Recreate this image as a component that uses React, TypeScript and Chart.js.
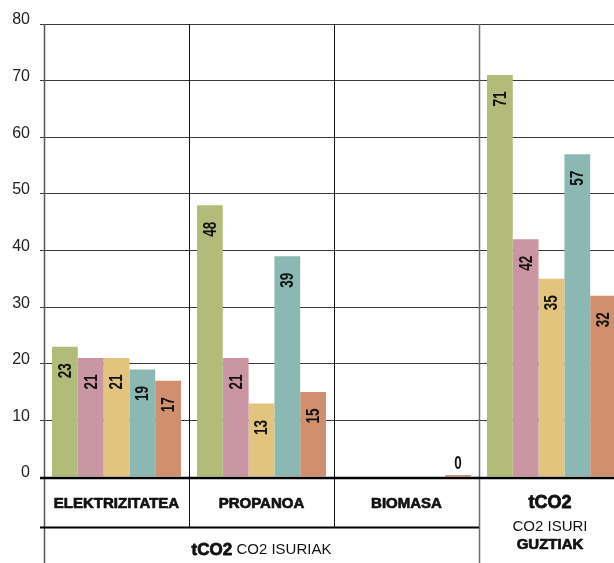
import React, { useEffect, useRef } from "react";
import { Chart, registerables } from "chart.js";

Chart.register(...registerables);

const categories = ["ELEKTRIZITATEA", "PROPANOA", "BIOMASA", "tCO2"];
const series1 = [23, 48, null, 71];
const series2 = [21, 21, null, 42];
const series3 = [21, 13, null, 35];
const series4 = [19, 39, null, 57];
const series5 = [17, 15, 0, 32];
const seriesNames = ["1", "2", "3", "4", "5"];
const seriesColors = ["#b2bb78", "#cb96a4", "#e2c47f", "#8bb8b3", "#d0906f"];
const yTicks = [0, 10, 20, 30, 40, 50, 60, 70, 80];
const groupLabel = ["tCO2", " CO2 ISURIAK"];
const totalLabel = ["tCO2", "CO2 ISURI", "GUZTIAK"];

const CANVAS_W = 640;
const CANVAS_H = 563;
const FONT = "'Liberation Sans', Arial, sans-serif";

function heavyText(ctx: any, text: string, x: number, y: number, sw: number) {
  ctx.fillText(text, x, y);
  if (sw > 0) {
    ctx.lineWidth = sw;
    ctx.strokeStyle = ctx.fillStyle;
    ctx.lineJoin = "round";
    ctx.strokeText(text, x, y);
  }
}

const overlayPlugin = {
  id: "overlay",
  beforeDatasetsDraw(chart: any) {
    const ctx = chart.ctx;
    const area = chart.chartArea;
    const w = (area.right - area.left) / categories.length;
    ctx.save();
    for (let i = 1; i < categories.length; i++) {
      const bx = Math.round(area.left + i * w) + 0.5;
      ctx.beginPath();
      if (i === categories.length - 1) {
        ctx.strokeStyle = "#6e6e6e";
        ctx.lineWidth = 1.5;
        ctx.moveTo(bx, area.top);
        ctx.lineTo(bx, CANVAS_H);
      } else {
        ctx.strokeStyle = "#111";
        ctx.lineWidth = 1;
        ctx.moveTo(bx, area.top);
        ctx.lineTo(bx, area.bottom + 50);
      }
      ctx.stroke();
    }
    ctx.restore();
  },
  afterDatasetsDraw(chart: any) {
    const ctx = chart.ctx;
    const area = chart.chartArea;
    const w = (area.right - area.left) / categories.length;
    ctx.save();
    ctx.strokeStyle = "#555";
    ctx.lineWidth = 1.5;
    ctx.beginPath();
    ctx.moveTo(area.left + 0.5, area.top);
    ctx.lineTo(area.left + 0.5, CANVAS_H);
    ctx.stroke();
    ctx.strokeStyle = "#000";
    ctx.lineWidth = 2.5;
    ctx.beginPath();
    ctx.moveTo(area.left - 4, area.bottom + 1);
    ctx.lineTo(CANVAS_W, area.bottom + 1);
    ctx.stroke();
    const sepY = area.bottom + 50.5;
    ctx.beginPath();
    ctx.lineWidth = 2.2;
    ctx.moveTo(area.left - 4, sepY);
    ctx.lineTo(area.left + 3 * w, sepY);
    ctx.stroke();

    ctx.fillStyle = "#111";
    ctx.textAlign = "center";
    ctx.textBaseline = "middle";
    const labelY = area.bottom + 27;
    for (let i = 0; i < 3; i++) {
      const cx = area.left + (i + 0.5) * w;
      ctx.font = `bold 15px ${FONT}`;
      heavyText(ctx, categories[i], cx, labelY, 0.7);
    }
    const c4 = area.left + 3.5 * w - 1.5;
    ctx.font = `bold 18px ${FONT}`;
    heavyText(ctx, totalLabel[0], c4, labelY - 1, 0.8);
    ctx.font = `15px ${FONT}`;
    ctx.fillText(totalLabel[1], c4, labelY + 23);
    ctx.font = `bold 15px ${FONT}`;
    heavyText(ctx, totalLabel[2], c4, labelY + 41, 0.7);

    const gx = area.left + 1.5 * w;
    const gy = area.bottom + 73;
    ctx.font = `bold 17px ${FONT}`;
    const w1 = ctx.measureText(groupLabel[0]).width;
    ctx.font = `15px ${FONT}`;
    const w2 = ctx.measureText(groupLabel[1]).width;
    const startX = gx - (w1 + w2) / 2;
    ctx.textAlign = "left";
    ctx.font = `bold 17px ${FONT}`;
    heavyText(ctx, groupLabel[0], startX, gy, 0.8);
    ctx.font = `15px ${FONT}`;
    ctx.fillText(groupLabel[1], startX + w1, gy);

    ctx.fillStyle = "#111";
    chart.data.datasets.forEach((ds: any, di: number) => {
      const meta = chart.getDatasetMeta(di);
      meta.data.forEach((el: any, i: number) => {
        const v = ds.data[i];
        if (v === null || v === undefined) return;
        ctx.save();
        ctx.font = `bold 18px ${FONT}`;
        ctx.textAlign = "center";
        ctx.textBaseline = "middle";
        if (v === 0) {
          ctx.translate(el.x, area.bottom - 13);
          ctx.scale(0.75, 1);
          ctx.fillText(String(v), 0, 0);
        } else {
          ctx.translate(el.x, el.y + 24);
          ctx.rotate(-Math.PI / 2);
          ctx.scale(0.75, 1);
          ctx.fillText(String(v), 0, 1);
        }
        ctx.restore();
      });
    });
    ctx.restore();
  },
};

export default function App() {
  const ref = useRef<HTMLCanvasElement | null>(null);
  useEffect(() => {
    document.body.style.margin = "0";
    document.body.style.overflow = "hidden";
    const canvas = ref.current;
    if (!canvas) return;
    const allSeries = [series1, series2, series3, series4, series5];
    const chart = new Chart(canvas, {
      type: "bar",
      data: {
        labels: categories,
        datasets: allSeries.map((d, i) => ({
          label: seriesNames[i],
          data: d,
          backgroundColor: seriesColors[i],
          borderWidth: 0,
          minBarLength: i === 4 ? 2 : 0,
        })),
      },
      options: {
        responsive: false,
        animation: false,
        devicePixelRatio: 1,
        layout: { padding: { top: 24, right: CANVAS_W - 624, bottom: 86, left: 0 } },
        plugins: { legend: { display: false }, tooltip: { enabled: false } },
        datasets: { bar: { categoryPercentage: 0.89, barPercentage: 1 } },
        scales: {
          x: { display: false, offset: true },
          y: {
            min: 0,
            max: 80,
            afterFit: (s: any) => {
              s.width = 44;
            },
            afterBuildTicks: (s: any) => {
              s.ticks = yTicks.map((v) => ({ value: v }));
            },
            border: { display: false },
            grid: { color: "#3a3a3a", lineWidth: 1, tickLength: 4, drawTicks: true },
            ticks: {
              padding: 10,
              labelOffset: -4,
              color: "#222",
              font: { family: FONT, size: 16 },
            },
          },
        },
      },
      plugins: [overlayPlugin],
    } as any);
    return () => chart.destroy();
  }, []);
  return (
    <div style={{ width: 614, height: 563, overflow: "hidden" }}>
      <canvas ref={ref} width={CANVAS_W} height={CANVAS_H} style={{ display: "block", width: CANVAS_W, height: CANVAS_H }} />
    </div>
  );
}
